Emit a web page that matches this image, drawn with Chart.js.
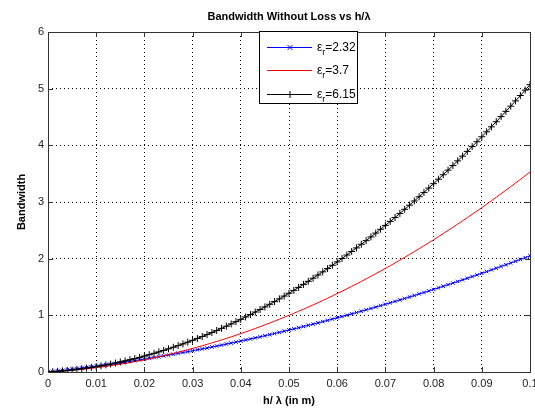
<!DOCTYPE html>
<html>
<head>
<meta charset="utf-8">
<title>Bandwidth Without Loss vs h/λ</title>
<script src="https://cdn.jsdelivr.net/npm/chart.js@4.4.0/dist/chart.umd.min.js"></script>
<style>
    html, body { margin: 0; padding: 0; background: #fff; }
</style>
</head>
<body>
<canvas id="bwChart" width="535" height="408"></canvas>
<script>
// x grid: h/lambda from 0 to 0.1 in steps of 0.001
const hOverLambda = [];
for (let i = 0; i <= 100; i++) hOverLambda.push(i / 1000);

// bandwidth, one value per x step
const bwEr232 = [0,0.009,0.019,0.028,0.038,0.048,0.059,0.069,0.080,0.091,
    0.102,0.114,0.126,0.138,0.150,0.162,0.175,0.188,0.201,0.214,
    0.228,0.241,0.255,0.270,0.284,0.299,0.314,0.329,0.344,0.360,
    0.376,0.392,0.408,0.424,0.441,0.458,0.475,0.493,0.510,0.528,
    0.546,0.565,0.583,0.602,0.621,0.640,0.660,0.680,0.699,0.720,
    0.740,0.761,0.781,0.803,0.824,0.845,0.867,0.889,0.911,0.934,
    0.956,0.979,1.002,1.026,1.049,1.073,1.097,1.121,1.146,1.171,
    1.196,1.221,1.246,1.272,1.298,1.324,1.350,1.377,1.403,1.430,
    1.458,1.485,1.513,1.541,1.569,1.597,1.626,1.655,1.684,1.713,
    1.742,1.772,1.802,1.832,1.863,1.893,1.924,1.955,1.987,2.018,2.050];

const bwEr37 = [0,0.005,0.011,0.017,0.024,0.031,0.039,0.048,0.057,0.067,
    0.078,0.089,0.100,0.113,0.126,0.139,0.154,0.168,0.184,0.200,
    0.216,0.234,0.252,0.270,0.289,0.309,0.329,0.350,0.372,0.394,
    0.416,0.440,0.464,0.488,0.514,0.539,0.566,0.593,0.620,0.649,
    0.678,0.707,0.737,0.768,0.799,0.831,0.864,0.897,0.931,0.965,
    1.000,1.036,1.072,1.109,1.146,1.184,1.223,1.262,1.302,1.342,
    1.384,1.425,1.468,1.511,1.554,1.598,1.643,1.689,1.735,1.781,
    1.828,1.876,1.925,1.974,2.023,2.074,2.125,2.176,2.228,2.281,
    2.334,2.388,2.443,2.498,2.554,2.610,2.667,2.725,2.783,2.842,
    2.902,2.962,3.022,3.084,3.146,3.208,3.271,3.335,3.399,3.464,3.530];

const bwEr615 = [0,0.005,0.012,0.019,0.027,0.036,0.046,0.057,0.069,0.081,
    0.095,0.109,0.125,0.141,0.158,0.177,0.196,0.216,0.237,0.258,
    0.281,0.305,0.329,0.355,0.381,0.409,0.437,0.466,0.496,0.527,
    0.559,0.592,0.626,0.660,0.696,0.733,0.770,0.808,0.848,0.888,
    0.929,0.971,1.014,1.058,1.102,1.148,1.195,1.242,1.290,1.340,
    1.390,1.441,1.493,1.546,1.600,1.655,1.711,1.767,1.825,1.883,
    1.943,2.003,2.064,2.127,2.190,2.254,2.318,2.384,2.451,2.519,
    2.587,2.657,2.727,2.798,2.871,2.944,3.018,3.093,3.169,3.245,
    3.323,3.402,3.481,3.562,3.643,3.726,3.809,3.893,3.978,4.064,
    4.151,4.239,4.327,4.417,4.507,4.599,4.691,4.785,4.879,4.974,5.070];

const epsValues = ["2.32", "3.7", "6.15"];

const xTickValues = [0, 0.01, 0.02, 0.03, 0.04, 0.05, 0.06, 0.07, 0.08, 0.09, 0.1];
const xTickLabels = ["0", "0.01", "0.02", "0.03", "0.04", "0.05", "0.06", "0.07", "0.08", "0.09", "0.1"];
const yTickValues = [0, 1, 2, 3, 4, 5, 6];
const yTickLabels = ["0", "1", "2", "3", "4", "5", "6"];

const FONT = "'Liberation Sans', Arial, sans-serif";
const seriesColors = ["#0000ff", "#ff0000", "#000000"];

function toPoints(ys) {
    return hOverLambda.map(function (h, i) { return { x: h, y: ys[i] }; });
}

// box round the plot, inward ticks, title and legend (MATLAB look)
const matlabFrame = {
    id: "matlabFrame",
    afterDatasetsDraw(chart) {
        const ctx = chart.ctx;
        const a = chart.chartArea;
        const xs = chart.scales.x, ys = chart.scales.y;
        ctx.save();
        ctx.strokeStyle = "#333";
        ctx.lineWidth = 1;
        ctx.beginPath();
        xTickValues.forEach(function (v) {
            const px = Math.round(xs.getPixelForValue(v)) + 0.5;
            ctx.moveTo(px, a.bottom); ctx.lineTo(px, a.bottom - 5);
            ctx.moveTo(px, a.top); ctx.lineTo(px, a.top + 5);
        });
        yTickValues.forEach(function (v) {
            const py = Math.round(ys.getPixelForValue(v)) + 0.5;
            ctx.moveTo(a.left, py); ctx.lineTo(a.left + 5, py);
            ctx.moveTo(a.right, py); ctx.lineTo(a.right - 5, py);
        });
        ctx.stroke();
        ctx.strokeRect(Math.round(a.left) + 0.5, Math.round(a.top) + 0.5,
            Math.round(a.right - a.left), Math.round(a.bottom - a.top));
        ctx.restore();
    },
    afterDraw(chart) {
        const ctx = chart.ctx;
        const a = chart.chartArea;
        ctx.save();
        // title
        ctx.fillStyle = "#000";
        ctx.font = "bold 11px " + FONT;
        ctx.textAlign = "center";
        ctx.textBaseline = "middle";
        ctx.fillText("Bandwidth Without Loss vs h/λ", (a.left + a.right) / 2, 17);

        // legend
        const lx = 259, ly = 31, lw = 98, lh = 72;
        ctx.fillStyle = "#fff";
        ctx.fillRect(lx, ly, lw, lh);
        ctx.strokeStyle = "#000";
        ctx.strokeRect(lx + 0.5, ly + 0.5, lw, lh);
        const rowY = [ly + 16, ly + 39, ly + 63];
        chart.data.datasets.forEach(function (ds, i) {
            const y = rowY[i] + 0.5;
            ctx.strokeStyle = ds.borderColor;
            ctx.lineWidth = 1;
            ctx.beginPath();
            ctx.moveTo(lx + 8, y); ctx.lineTo(lx + 53, y);
            const mx = lx + 31, r = ds.pointRadius;
            if (ds.pointStyle === "crossRot") {
                ctx.moveTo(mx - r, y - r); ctx.lineTo(mx + r, y + r);
                ctx.moveTo(mx - r, y + r); ctx.lineTo(mx + r, y - r);
            } else if (ds.pointStyle === "cross") {
                ctx.moveTo(mx, y - r); ctx.lineTo(mx, y + r);
            }
            ctx.stroke();
            ctx.fillStyle = "#000";
            ctx.textAlign = "left";
            ctx.textBaseline = "middle";
            let tx = lx + 58;
            ctx.font = "12px " + FONT;
            ctx.fillText("ε", tx, y);
            tx += ctx.measureText("ε").width;
            ctx.font = "9px " + FONT;
            ctx.fillText("r", tx, y + 5);
            tx += ctx.measureText("r").width;
            ctx.font = "12px " + FONT;
            ctx.fillText("=" + epsValues[i], tx, y);
        });
        ctx.restore();
    }
};

new Chart(document.getElementById("bwChart"), {
    type: "line",
    data: {
        datasets: [
            {
                label: "εr=" + epsValues[0],
                data: toPoints(bwEr232),
                borderColor: seriesColors[0],
                backgroundColor: seriesColors[0],
                borderWidth: 1,
                pointStyle: "crossRot",
                pointRadius: 2.5,
                pointBorderWidth: 1,
                fill: false,
                order: 2,
            },
            {
                label: "εr=" + epsValues[1],
                data: toPoints(bwEr37),
                borderColor: seriesColors[1],
                backgroundColor: seriesColors[1],
                borderWidth: 1,
                pointRadius: 0,
                fill: false,
                order: 1,
            },
            {
                label: "εr=" + epsValues[2],
                data: toPoints(bwEr615),
                borderColor: seriesColors[2],
                backgroundColor: seriesColors[2],
                borderWidth: 1,
                pointStyle: "cross",
                pointRadius: 3.5,
                pointBorderWidth: 1,
                fill: false,
                order: 0,
            },
        ],
    },
    options: {
        responsive: false,
        animation: false,
        layout: { padding: { left: 0, top: 32, right: 5, bottom: 0 } },
        plugins: {
            legend: { display: false },
            title: { display: false },
            tooltip: { enabled: false },
        },
        elements: { line: { tension: 0 } },
        scales: {
            x: {
                type: "linear",
                min: 0,
                max: 0.1,
                afterBuildTicks: function (scale) {
                    scale.ticks = xTickValues.map(function (v) { return { value: v }; });
                },
                afterFit: function (scale) {
                    scale.height = 36;
                    scale.paddingLeft = 0;
                    scale.paddingRight = 0;
                },
                ticks: {
                    autoSkip: false,
                    maxRotation: 0,
                    padding: 5,
                    color: "#222",
                    font: { family: FONT, size: 11 },
                    callback: function (value, index) { return xTickLabels[index]; },
                },
                grid: { color: "#000", lineWidth: 1, drawTicks: false },
                border: { display: false, dash: [1, 3] },
                title: {
                    display: true,
                    text: "h/ λ (in m)",
                    color: "#000",
                    font: { family: FONT, size: 11, weight: "bold" },
                    padding: { top: 0, bottom: 0 },
                },
            },
            y: {
                type: "linear",
                min: 0,
                max: 6,
                afterBuildTicks: function (scale) {
                    scale.ticks = yTickValues.map(function (v) { return { value: v }; });
                },
                afterFit: function (scale) {
                    scale.width = 48;
                    scale.paddingTop = 0;
                    scale.paddingBottom = 0;
                },
                ticks: {
                    padding: 4,
                    color: "#222",
                    font: { family: FONT, size: 11 },
                    callback: function (value, index) { return yTickLabels[index]; },
                },
                grid: { color: "#000", lineWidth: 1, drawTicks: false },
                border: { display: false, dash: [1, 3] },
                title: {
                    display: true,
                    text: "Bandwidth",
                    color: "#000",
                    font: { family: FONT, size: 11, weight: "bold" },
                    padding: { top: 15, bottom: 0 },
                },
            },
        },
    },
    plugins: [matlabFrame],
});
</script>
</body>
</html>
